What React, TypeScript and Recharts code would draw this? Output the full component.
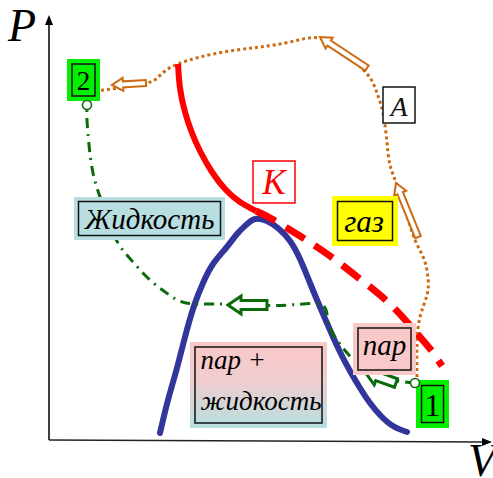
import React from 'react';
import { ComposedChart, Line, Scatter, XAxis, YAxis } from 'recharts';

const W = 493;
const H = 478;

// ---- curves (x = V, y = P, in the drawing frame; P axis reversed) ----
const redSolid = [
  { x: 178, y: 64 }, { x: 180, y: 88 }, { x: 185, y: 112 }, { x: 192, y: 133 },
  { x: 200, y: 151 }, { x: 212, y: 172 }, { x: 226, y: 190 }, { x: 240, y: 202 }, { x: 256, y: 211 },
];
const redDashed = [
  { x: 256, y: 211 }, { x: 272, y: 219 }, { x: 300, y: 236 }, { x: 330, y: 256 },
  { x: 360, y: 279 }, { x: 390, y: 304 }, { x: 414, y: 330 }, { x: 431, y: 350 }, { x: 442, y: 366 },
];
const dome = [
  { x: 160, y: 433 }, { x: 168, y: 400 }, { x: 177, y: 368 }, { x: 185, y: 337 }, { x: 194, y: 306 },
  { x: 203, y: 283 }, { x: 213, y: 264 }, { x: 226, y: 248 }, { x: 237, y: 234 }, { x: 246, y: 225 },
  { x: 255, y: 219 }, { x: 267, y: 221 }, { x: 279, y: 229 }, { x: 290, y: 241 }, { x: 300, y: 259 },
  { x: 310, y: 283 }, { x: 320, y: 307 }, { x: 330, y: 330 }, { x: 340, y: 352 }, { x: 350, y: 371 },
  { x: 360, y: 388 }, { x: 370, y: 403 }, { x: 381, y: 416 }, { x: 393, y: 426 }, { x: 407, y: 432 },
];
const orangePath = [
  { x: 417, y: 383 }, { x: 417, y: 345 }, { x: 420, y: 317 }, { x: 427, y: 295 }, { x: 428, y: 278 },
  { x: 424, y: 259 }, { x: 415, y: 240 }, { x: 406, y: 212 }, { x: 397, y: 185 }, { x: 390, y: 165 },
  { x: 387, y: 143 }, { x: 383, y: 113 }, { x: 377, y: 93 }, { x: 368, y: 75 }, { x: 345, y: 53 },
  { x: 320, y: 38 }, { x: 290, y: 42 }, { x: 260, y: 47 }, { x: 230, y: 51 }, { x: 200, y: 57 },
  { x: 178, y: 64 }, { x: 165, y: 71 }, { x: 156, y: 79 }, { x: 146, y: 83 }, { x: 125, y: 87 },
  { x: 104, y: 90 }, { x: 86, y: 92 },
];
const greenPath = [
  { x: 415, y: 383 }, { x: 398, y: 381 }, { x: 380, y: 376 }, { x: 362, y: 367 }, { x: 348, y: 354 },
  { x: 337, y: 340 }, { x: 328, y: 322 }, { x: 322, y: 305 }, { x: 290, y: 305 }, { x: 250, y: 305 },
  { x: 215, y: 304 }, { x: 186, y: 303 }, { x: 168, y: 294 }, { x: 150, y: 280 }, { x: 133, y: 262 },
  { x: 118, y: 243 }, { x: 108, y: 220 }, { x: 100, y: 197 }, { x: 93, y: 173 }, { x: 89, y: 145 },
  { x: 87, y: 120 }, { x: 87, y: 109 },
];
const pAxis = [{ x: 49, y: 440 }, { x: 49, y: 24 }];
const vAxis = [{ x: 49, y: 440 }, { x: 485, y: 442 }];
const axisHeads = [
  { x: 49, y: 15, dir: 'up' },
  { x: 492, y: 442, dir: 'right' },
];
const axisNames = [
  { x: 8, y: 41, text: 'P' },
  { x: 468, y: 476, text: 'V' },
];
const points = [
  { x: 87, y: 105 },
  { x: 415, y: 383 },
];
// arrows: tip (x, y) and tail (tx, ty)
const orangeArrows = [
  { x: 112, y: 85, tx: 146, ty: 83 },
  { x: 320, y: 37, tx: 367, ty: 68 },
  { x: 396, y: 183, tx: 418, ty: 237 },
];
const greenArrows = [
  { x: 228, y: 305, tx: 267, ty: 305 },
  { x: 365, y: 372, tx: 396, ty: 383 },
];
const tags = [
  { id: 'two', x: 83.5, y: 80, lines: ['2'] },
  { id: 'one', x: 432.5, y: 404, lines: ['1'] },
  { id: 'A', x: 399, y: 105, lines: ['A'] },
  { id: 'K', x: 274, y: 182, lines: ['K'] },
  { id: 'gas', x: 365, y: 221, lines: ['газ'] },
  { id: 'liquid', x: 149.5, y: 218.5, lines: ['Жидкость'] },
  { id: 'vapor', x: 384.5, y: 349, lines: ['пар'] },
  { id: 'mix', x: 258.5, y: 385, lines: ['пар +', 'жидкость'] },
];

// ---- styles ----
const SERIF = 'Liberation Serif';
const RED = '#ff0000';
const BLUE = '#32359a';
const ORANGE = '#cc6a12';
const GREEN = '#0a6a0a';

type TagStyle = {
  w: number; h: number; bg: string; border: string; inset: number; color: string;
  size: number; dy: number[]; dx: number; anchor: 'middle' | 'start'; italic: boolean; gradient?: boolean;
};
const tagStyles: Record<string, TagStyle> = {
  two: { w: 33, h: 42, bg: '#00f000', border: '#111', inset: 5, color: '#000', size: 27, dy: [10], dx: 0, anchor: 'middle', italic: false },
  one: { w: 33, h: 48, bg: '#00f000', border: '#111', inset: 5.5, color: '#000', size: 32, dy: [12], dx: 0, anchor: 'middle', italic: false },
  A: { w: 32, h: 36, bg: '#ffffff', border: '#111', inset: 0, color: '#111', size: 28, dy: [11], dx: 0, anchor: 'middle', italic: true },
  K: { w: 42, h: 42, bg: '#ffffff', border: RED, inset: 0, color: RED, size: 35, dy: [12], dx: 0, anchor: 'middle', italic: true },
  gas: { w: 66, h: 50, bg: '#ffff00', border: '#111', inset: 5.5, color: '#000', size: 31, dy: [11], dx: -1, anchor: 'middle', italic: true },
  liquid: { w: 151, h: 43, bg: '#b8dee1', border: '#111', inset: 4.5, color: '#000', size: 29, dy: [10], dx: 0, anchor: 'middle', italic: true },
  vapor: { w: 63, h: 52, bg: '#f9c8c8', border: '#111', inset: 5, color: '#000', size: 29, dy: [6], dx: 0, anchor: 'middle', italic: true },
  mix: { w: 137, h: 86, bg: 'url(#mixGrad)', border: '#111', inset: 5, color: '#000', size: 27, dy: [-16, 25], dx: -58, anchor: 'start', italic: true, gradient: true },
};

const arrowShape = (color: string, hl: number, hw: number, sw: number, width: number) => (props: any) => {
  const { cx, cy, payload } = props;
  const ddx = payload.x - payload.tx;
  const ddy = payload.y - payload.ty;
  const L = Math.hypot(ddx, ddy);
  const deg = (Math.atan2(ddy, ddx) * 180) / Math.PI;
  const pts = [
    [0, 0], [-hl, -hw], [-hl, -sw], [-L, -sw], [-L, sw], [-hl, sw], [-hl, hw],
  ].map((p) => p.join(',')).join(' ');
  return (
    <polygon
      points={pts}
      transform={`translate(${cx},${cy}) rotate(${deg})`}
      fill="#ffffff"
      stroke={color}
      strokeWidth={width}
      strokeLinejoin="miter"
    />
  );
};

const tagShape = (props: any) => {
  const { cx, cy, payload } = props;
  const s = tagStyles[payload.id];
  const x0 = cx - s.w / 2;
  const y0 = cy - s.h / 2;
  return (
    <g>
      {s.gradient && (
        <defs>
          <linearGradient id="mixGrad" x1="0" y1="0" x2="0" y2="1">
            <stop offset="0%" stopColor="#fbc7c7" />
            <stop offset="45%" stopColor="#f0cdcf" />
            <stop offset="100%" stopColor="#b6dfe0" />
          </linearGradient>
        </defs>
      )}
      <rect x={x0} y={y0} width={s.w} height={s.h} fill={s.bg} stroke={s.inset === 0 ? s.border : 'none'} strokeWidth={1.5} />
      {s.inset > 0 && (
        <rect x={x0 + s.inset} y={y0 + s.inset} width={s.w - 2 * s.inset} height={s.h - 2 * s.inset}
          fill="none" stroke={s.border} strokeWidth={1.5} />
      )}
      {payload.lines.map((t: string, i: number) => (
        <text key={i} x={cx + s.dx} y={cy + s.dy[i]} textAnchor={s.anchor} fontFamily={SERIF}
          fontStyle={s.italic ? 'italic' : 'normal'} fontSize={s.size} fill={s.color}>
          {t}
        </text>
      ))}
    </g>
  );
};

const headShape = (props: any) => {
  const { cx, cy, payload } = props;
  const pts = payload.dir === 'up'
    ? `${cx},${cy} ${cx - 4},${cy + 10} ${cx + 4},${cy + 10}`
    : `${cx},${cy} ${cx - 10},${cy - 4} ${cx - 10},${cy + 4}`;
  return <polygon points={pts} fill="#000" />;
};

const nameShape = (props: any) => {
  const { cx, cy, payload } = props;
  return (
    <text x={cx} y={cy} fontFamily={SERIF} fontStyle="italic" fontSize={46} fill="#000">
      {payload.text}
    </text>
  );
};

const pointShape = (props: any) => {
  const { cx, cy } = props;
  return <circle cx={cx} cy={cy} r={4.5} fill="#ffffff" stroke={GREEN} strokeWidth={1.6} />;
};

export default function App() {
  return (
    <div style={{ position: 'absolute', left: 0, top: 0, width: W, height: H, background: '#fff' }}>
      <ComposedChart width={W} height={H} margin={{ top: 0, right: 0, bottom: 0, left: 0 }}>
        <XAxis type="number" dataKey="x" domain={[0, W]} hide allowDataOverflow />
        <YAxis type="number" dataKey="y" domain={[0, H]} reversed hide allowDataOverflow />
        <Line data={pAxis} dataKey="y" type="linear" stroke="#000" strokeWidth={1.5} dot={false} activeDot={false} isAnimationActive={false} />
        <Line data={vAxis} dataKey="y" type="linear" stroke="#222" strokeWidth={1.5} dot={false} activeDot={false} isAnimationActive={false} />
        <Line data={dome} dataKey="y" type="natural" stroke={BLUE} strokeWidth={6} strokeLinecap="round" dot={false} activeDot={false} isAnimationActive={false} />
        <Line data={orangePath} dataKey="y" type="natural" stroke={ORANGE} strokeWidth={3} strokeDasharray="3 3" dot={false} activeDot={false} isAnimationActive={false} />
        <Line data={greenPath} dataKey="y" type="natural" stroke={GREEN} strokeWidth={3} strokeDasharray="10 6 2 6" dot={false} activeDot={false} isAnimationActive={false} />
        <Line data={redSolid} dataKey="y" type="natural" stroke={RED} strokeWidth={6} dot={false} activeDot={false} isAnimationActive={false} />
        <Line data={redDashed} dataKey="y" type="natural" stroke={RED} strokeWidth={7} strokeDasharray="22 12" dot={false} activeDot={false} isAnimationActive={false} />
        <Scatter data={axisHeads} shape={headShape} isAnimationActive={false} />
        <Scatter data={axisNames} shape={nameShape} isAnimationActive={false} />
        <Scatter data={orangeArrows} shape={arrowShape(ORANGE, 11, 6.5, 3, 2)} isAnimationActive={false} />
        <Scatter data={greenArrows} shape={arrowShape(GREEN, 13, 9, 4.5, 3)} isAnimationActive={false} />
        <Scatter data={tags} shape={tagShape} isAnimationActive={false} />
        <Scatter data={points} shape={pointShape} isAnimationActive={false} />
      </ComposedChart>
    </div>
  );
}
